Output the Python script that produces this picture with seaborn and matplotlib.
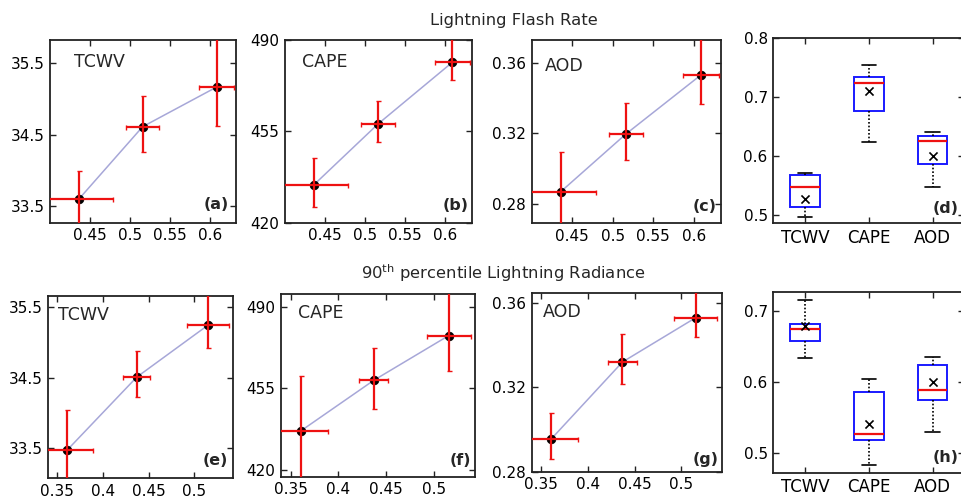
import numpy as np
import pandas as pd
import matplotlib
matplotlib.use("Agg")
import matplotlib.pyplot as plt
import seaborn as sns

# ---- binned relationships (x = lightning quantity, y = environmental variable) ----
x_flash = [0.436, 0.516, 0.609]
xerr_flash = [0.043, 0.021, 0.022]
x_rad = [0.361, 0.437, 0.5155]
xerr_rad = [0.028, 0.015, 0.023]

tcwv_flash = [33.59, 34.61, 35.17]
tcwv_flash_lo = [0.40, 0.35, 0.55]
tcwv_flash_hi = [0.40, 0.43, 0.70]

cape_flash = [434.5, 457.8, 481.5]
cape_flash_lo = [8.3, 6.8, 6.9]
cape_flash_hi = [10.3, 8.7, 9.0]

aod_flash = [0.287, 0.3196, 0.3533]
aod_flash_lo = [0.022, 0.0148, 0.0166]
aod_flash_hi = [0.0224, 0.0174, 0.020]

tcwv_rad = [33.48, 34.51, 35.25]
tcwv_rad_lo = [0.55, 0.28, 0.32]
tcwv_rad_hi = [0.56, 0.37, 0.42]

cape_rad = [436.8, 458.4, 477.6]
cape_rad_lo = [23.5, 12.4, 15.0]
cape_rad_hi = [23.5, 13.9, 18.5]

aod_rad = [0.2956, 0.3321, 0.3532]
aod_rad_lo = [0.0094, 0.0106, 0.0094]
aod_rad_hi = [0.0124, 0.0133, 0.012]

# ---- box summaries ----
variables = ["TCWV", "CAPE", "AOD"]
flash_min = [0.497, 0.624, 0.548]
flash_q1 = [0.513, 0.676, 0.587]
flash_med = [0.548, 0.724, 0.626]
flash_q3 = [0.567, 0.733, 0.634]
flash_max = [0.571, 0.753, 0.640]
flash_mean = [0.527, 0.709, 0.600]

rad_min = [0.633, 0.483, 0.529]
rad_q1 = [0.658, 0.518, 0.574]
rad_med = [0.675, 0.527, 0.589]
rad_q3 = [0.681, 0.586, 0.623]
rad_max = [0.715, 0.604, 0.635]
rad_mean = [0.678, 0.541, 0.600]

sns.set_theme(style="ticks")
plt.rcParams["font.family"] = ["DejaVu Sans"]
plt.rcParams["mathtext.fontset"] = "dejavusans"

W, H = 962, 500
fig = plt.figure(figsize=(W / 100, H / 100), dpi=100)


def add_ax(left, top, right, bottom):
    return fig.add_axes([left / W, 1 - bottom / H, (right - left) / W, (bottom - top) / H])


def style_ax(ax, xsize=11):
    for s in ax.spines.values():
        s.set_color("#222222")
        s.set_linewidth(1.3)
    ax.tick_params(direction="in", length=4, width=1, top=True, right=True,
                   labelsize=11, colors="#222222", labelcolor="black", pad=4)
    ax.tick_params(axis="x", labelsize=xsize)
    ax.set_xlabel("")
    ax.set_ylabel("")


def scatter_panel(ax, x, xerr, y, lo, hi, xlim, ylim, xticks, yticks, xlabels, ylabels,
                  name, tag, name_pos, tag_off):
    df = pd.DataFrame({"x": x, "y": y})
    sns.lineplot(data=df, x="x", y="y", ax=ax, color="#a7a7d8", linewidth=1.1,
                 sort=False, zorder=1)
    sns.scatterplot(data=df, x="x", y="y", ax=ax, color="black", s=38,
                    edgecolor="black", linewidth=0.6, zorder=2, legend=False)
    ax.errorbar(x, y, xerr=xerr, yerr=[lo, hi], fmt="none", ecolor="#ee1111",
                elinewidth=1.6, capsize=1.8, capthick=1.0, zorder=3)
    ax.set_xlim(*xlim)
    ax.set_ylim(*ylim)
    ax.set_xticks(xticks)
    ax.set_xticklabels(xlabels)
    ax.set_yticks(yticks)
    ax.set_yticklabels(ylabels)
    style_ax(ax)
    ax.text(name_pos[0], name_pos[1], name, transform=ax.transAxes, fontsize=12.5,
            ha="left", va="center")
    ax.annotate(tag, xy=(1, 0), xycoords="axes fraction", xytext=tag_off,
                textcoords="offset points", ha="right", va="center",
                fontsize=11.5, fontweight="bold")


def box_panel(ax, mins, q1s, meds, q3s, maxs, means, ylim, yticks, tag, tag_off):
    rows = []
    for v, a, b, c, d, e in zip(variables, mins, q1s, meds, q3s, maxs):
        for val in (a, b, c, d, e):
            rows.append({"var": v, "val": val})
    df = pd.DataFrame(rows)
    sns.boxplot(data=df, x="var", y="val", order=variables, ax=ax, width=0.46,
                whis=(0, 100), showfliers=False, linewidth=1.4,
                boxprops=dict(facecolor="white", edgecolor="#1a1aff", linewidth=1.4),
                medianprops=dict(color="#ee1111", linewidth=1.6),
                whiskerprops=dict(color="black", linestyle=(0, (1, 1.2)), linewidth=1.2),
                capprops=dict(color="black", linewidth=1.2))
    mdf = pd.DataFrame({"var": variables, "mean": means})
    sns.scatterplot(data=mdf, x="var", y="mean", ax=ax, marker="x", color="black",
                    s=34, linewidth=1.2, zorder=5, legend=False)
    ax.set_xlim(-0.5, 2.5)
    ax.set_ylim(*ylim)
    ax.set_yticks(yticks)
    ax.set_yticklabels([f"{t:g}" for t in yticks])
    style_ax(ax, xsize=12)
    ax.annotate(tag, xy=(1, 0), xycoords="axes fraction", xytext=tag_off,
                textcoords="offset points", ha="right", va="center",
                fontsize=11.5, fontweight="bold")


top_xlim = (0.40, 0.633)
top_xt = [0.45, 0.5, 0.55, 0.6]
top_xl = ["0.45", "0.5", "0.55", "0.6"]
bot_xlim = (0.34, 0.543)
bot_xt = [0.35, 0.4, 0.45, 0.5]
bot_xl = ["0.35", "0.4", "0.45", "0.5"]

ax_a = add_ax(50, 40, 236, 222.7)
scatter_panel(ax_a, x_flash, xerr_flash, tcwv_flash, tcwv_flash_lo, tcwv_flash_hi,
              top_xlim, (33.26, 35.83), top_xt, [33.5, 34.5, 35.5], top_xl,
              ["33.5", "34.5", "35.5"], "TCWV", "(a)", (0.13, 0.88), (-5, 13))

ax_b = add_ax(285, 40, 471.7, 222.7)
scatter_panel(ax_b, x_flash, xerr_flash, cape_flash, cape_flash_lo, cape_flash_hi,
              top_xlim, (420, 490), top_xt, [420, 455, 490], top_xl,
              ["420", "455", "490"], "CAPE", "(b)", (0.09, 0.88), (-2, 12.5))

ax_c = add_ax(531.7, 40, 720.7, 223.3)
scatter_panel(ax_c, x_flash, xerr_flash, aod_flash, aod_flash_lo, aod_flash_hi,
              top_xlim, (0.269, 0.373), top_xt, [0.28, 0.32, 0.36], top_xl,
              ["0.28", "0.32", "0.36"], "AOD", "(c)", (0.07, 0.86), (-3, 12))

ax_d = add_ax(773.3, 37.7, 964.4, 223.3)
box_panel(ax_d, flash_min, flash_q1, flash_med, flash_q3, flash_max, flash_mean,
          (0.486, 0.8), [0.5, 0.6, 0.7, 0.8], "(d)", (-4.5, 11))

ax_e = add_ax(48.3, 295.7, 233.3, 478.3)
scatter_panel(ax_e, x_rad, xerr_rad, tcwv_rad, tcwv_rad_lo, tcwv_rad_hi,
              bot_xlim, (33.076, 35.665), bot_xt, [33.5, 34.5, 35.5], bot_xl,
              ["33.5", "34.5", "35.5"], "TCWV", "(e)", (0.05, 0.895), (-4, 12.5))

ax_f = add_ax(281, 294.3, 475, 476.7)
scatter_panel(ax_f, x_rad, xerr_rad, cape_rad, cape_rad_lo, cape_rad_hi,
              bot_xlim, (417.1, 495.3), bot_xt, [420, 455, 490], bot_xl,
              ["420", "455", "490"], "CAPE", "(f)", (0.086, 0.90), (-2.5, 11.5))

ax_g = add_ax(531.7, 292.7, 721.7, 471.7)
scatter_panel(ax_g, x_rad, xerr_rad, aod_rad, aod_rad_lo, aod_rad_hi,
              bot_xlim, (0.28, 0.365), bot_xt, [0.28, 0.32, 0.36], bot_xl,
              ["0.28", "0.32", "0.36"], "AOD", "(g)", (0.06, 0.89), (-2, 9))

ax_h = add_ax(773.3, 292.3, 964.4, 472.7)
box_panel(ax_h, rad_min, rad_q1, rad_med, rad_q3, rad_max, rad_mean,
          (0.472, 0.726), [0.5, 0.6, 0.7], "(h)", (-4.5, 11))

fig.text(514 / W, 1 - 21 / H, "Lightning Flash Rate", ha="center", va="center", fontsize=11.8)
fig.text(503 / W, 1 - 273 / H, r"90$^{\mathrm{th}}$ percentile Lightning Radiance",
         ha="center", va="center", fontsize=11.8)

fig.savefig("out.png", dpi=100)
